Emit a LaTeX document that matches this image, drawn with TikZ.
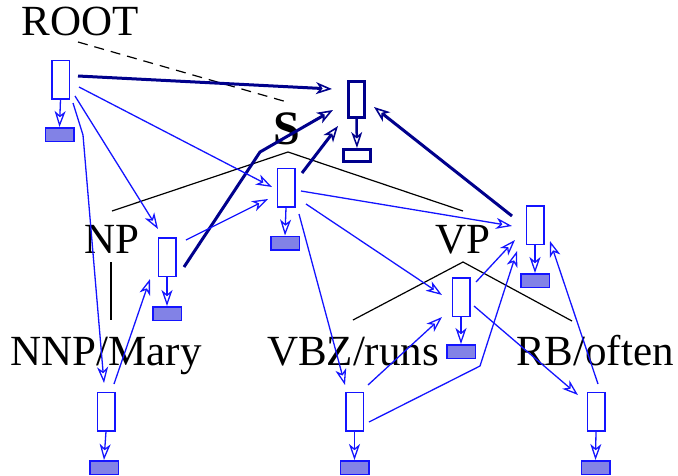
\documentclass[tikz,border=0pt]{standalone}
\usepackage{fontspec}
\setmainfont{Liberation Serif}
\usetikzlibrary{arrows.meta,calc}
\definecolor{bl}{RGB}{20,20,255}
\definecolor{nv}{RGB}{0,0,140}
\definecolor{fl}{RGB}{130,130,230}
\begin{document}
\begin{tikzpicture}[x=1pt,y=-1pt,
  lab/.style={inner sep=0pt, font=\fontsize{43}{50}\selectfont, anchor=base},
  bx/.style={draw=bl, line width=1.5pt, minimum width=17.5pt, minimum height=38.5pt, inner sep=0pt},
  fbx/.style={draw=bl, fill=fl, line width=1.5pt, minimum width=28.5pt, minimum height=13.5pt, inner sep=0pt},
  tbx/.style={draw=nv, line width=3pt, minimum width=16pt, minimum height=36pt, inner sep=0pt},
  tout/.style={draw=nv, line width=3pt, minimum width=27pt, minimum height=12pt, inner sep=0pt},
  barr/.style={draw=bl, line width=1.3pt, -{Stealth[open,length=16pt,width=11pt,inset=4.5pt]}},
  darr/.style={draw=nv, line width=3pt, -{Stealth[open,length=16pt,width=12pt,inset=4.5pt,line width=1.6pt]}},
  tarr/.style={draw=nv, line width=2.5pt, -{Stealth[open,length=16pt,width=11pt,inset=4.5pt,line width=1.5pt]}},
  tree/.style={draw=black, line width=1.2pt},
  dsh/.style={draw=black, line width=1.2pt, dash pattern=on 10pt off 7pt}
]
\useasboundingbox (0,0) rectangle (678,475);

% labels
\node[lab] (root) at (80,35) {ROOT};
\node[lab, font=\fontsize{48}{56}\selectfont\bfseries] (s) at (287,144) {S};
\node[lab] (np) at (112,253) {NP};
\node[lab] (vp) at (463,253) {VP};
\node[lab] (nnp) at (106,365) {NNP/Mary};
\node[lab] (vbz) at (353,365) {VBZ/runs};
\node[lab] (rb) at (595,365) {RB/often};

% tree lines
\draw[dsh] ($(root.base)+(-2,7)$) -- ($(s.base)+(0,-42)$);
\draw[tree] ($(np.base)+(0,-42)$) -- ($(s.base)+(1,8)$) -- ($(vp.base)+(0,-42)$);
\draw[tree] ($(np.base)+(-1,9)$) -- ($(nnp.base)+(5,-45)$);
\draw[tree] ($(vbz.base)+(0,-45)$) -- ($(vp.base)+(0,9)$) -- ($(rb.base)+(-23,-44)$);

% boxes
\node[bx] (rootbox) at (60.5,79.5) {};
\node[fbx] (rootout) at (59.5,134.5) {};
\node[tbx] (stop) at (356.5,99.5) {};
\node[tout] (stopout) at (357,155.5) {};
\node[bx] (sbox) at (286,187.5) {};
\node[fbx] (sout) at (285,243) {};
\node[bx] (npbox) at (167,257) {};
\node[fbx] (npout) at (167,313.5) {};
\node[bx] (vpbox) at (535,225) {};
\node[fbx] (vpout) at (535,280.5) {};
\node[bx] (vcbox) at (461,297) {};
\node[fbx] (vcout) at (461,351.5) {};
\node[bx] (nnpbox) at (106,411.5) {};
\node[fbx] (nnpout) at (104,467.5) {};
\node[bx] (vbzbox) at (354.5,411.5) {};
\node[fbx] (vbzout) at (354.5,467.5) {};
\node[bx] (rbbox) at (596,411.5) {};
\node[fbx] (rbout) at (595.5,467.5) {};

% box to output arrows
\draw[barr] (rootbox.south) -- (rootout.north);
\draw[tarr] (stop.south) -- (stopout.north);
\draw[barr] (sbox.south) -- (sout.north);
\draw[barr] (npbox.south) -- (npout.north);
\draw[barr] (vpbox.south) -- (vpout.north);
\draw[barr] (vcbox.south) -- (vcout.north);
\draw[barr] (nnpbox.south) -- (nnpout.north);
\draw[barr] (vbzbox.south) -- (vbzout.north);
\draw[barr] (rbbox.south) -- (rbout.north);

% thick dark arrows
\draw[darr] ($(rootbox)+(17.5,-3.5)$) -- ($(stop)+(-24.5,-10.5)$);
\draw[darr] ($(npbox)+(17,10)$) -- (260,152) -- ($(stop)+(-23.5,10.5)$);
\draw[darr] ($(sbox)+(16,-14.5)$) -- ($(stop)+(-18.5,26.5)$);
\draw[darr] ($(vpbox)+(-23,-9)$) -- ($(stop)+(17.5,7.5)$);

% thin blue arrows
\draw[barr] ($(rootbox)+(18.5,7.5)$) -- ($(sbox)+(-14,-0.5)$);
\draw[barr] ($(rootbox)+(14.5,16.5)$) -- ($(npbox)+(-9,-28)$);
\draw[barr] ($(rootbox)+(12.5,23.5)$) -- (83,135) -- ($(nnpbox)+(-2,-28.5)$);
\draw[barr] ($(nnpbox)+(8,-27.5)$) -- ($(npbox)+(-17,22)$);
\draw[barr] ($(npbox)+(19,-17)$) -- ($(sbox)+(-18,11.5)$);
\draw[barr] ($(sbox)+(15,3.5)$) -- ($(vpbox)+(-23,1)$);
\draw[barr] ($(sbox)+(20,16.5)$) -- ($(vcbox)+(-19,-2)$);
\draw[barr] ($(sbox)+(13,26.5)$) -- ($(vbzbox)+(-9.5,-26.5)$);
\draw[barr] ($(vcbox)+(15,-15)$) -- ($(vpbox)+(-20,15)$);
\draw[barr] ($(vcbox)+(13,9)$) -- ($(rbbox)+(-18,-16.5)$);
\draw[barr] ($(vbzbox)+(13.5,-26.5)$) -- ($(vcbox)+(-19,20)$);
\draw[barr] ($(vbzbox)+(14.5,10.5)$) -- (480,366) -- ($(vpbox)+(-18,26)$);
\draw[barr] ($(rbbox)+(2,-27.5)$) -- ($(vpbox)+(15,16)$);
\end{tikzpicture}
\end{document}
